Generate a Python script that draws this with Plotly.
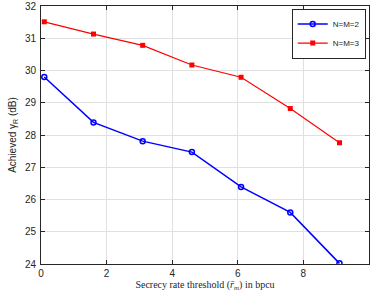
import plotly.graph_objects as go

x_vals = [0.1, 1.6, 3.1, 4.6, 6.1, 7.6, 9.1]
blue_vals = [29.8, 28.39, 27.81, 27.47, 26.39, 25.6, 24.02]
red_vals = [31.51, 31.13, 30.78, 30.17, 29.79, 28.82, 27.76]
names = ["N=M=2", "N=M=3"]

fig = go.Figure()
fig.add_trace(go.Scatter(x=x_vals, y=blue_vals, name=names[0], mode="lines+markers",
                         line=dict(color="#0000ff", width=1.5),
                         marker=dict(symbol="circle-open", size=5, color="#0000ff", line=dict(width=1.5))))
fig.add_trace(go.Scatter(x=x_vals, y=red_vals, name=names[1], mode="lines+markers",
                         line=dict(color="#ff0000", width=1.2),
                         marker=dict(symbol="square", size=5, color="#ff0000")))

axis_common = dict(showline=True, linecolor="#262626", linewidth=1, mirror="ticks",
                   ticks="inside", ticklen=4, tickcolor="#262626",
                   showgrid=True, gridcolor="#e0e0e0", gridwidth=1, zeroline=False,
                   automargin=False,
                   tickfont=dict(family="Liberation Sans, Arial", size=10, color="#262626"))

fig.update_xaxes(range=[0, 10], dtick=2, ticklabelstandoff=0, **axis_common,
                 title=dict(text="Secrecy rate threshold (<i>r̄</i><sub><i>m</i></sub>) in bpcu",
                            font=dict(family="Liberation Serif, Times New Roman", size=10, color="#262626"),
                            standoff=0))
fig.update_yaxes(range=[24, 32], dtick=1, ticklabelstandoff=2, **axis_common,
                 title=dict(text="Achieved γ<sub>R</sub> (dB)",
                            font=dict(family="Liberation Sans, Arial", size=10, color="#262626"),
                            standoff=6))

fig.update_layout(width=374, height=296, margin=dict(l=41, r=5, t=6, b=32),
                  paper_bgcolor="white", plot_bgcolor="white", showlegend=True,
                  legend=dict(x=0.99, y=0.99, xanchor="right", yanchor="top",
                              bgcolor="white", bordercolor="#262626", borderwidth=1,
                              font=dict(family="Liberation Sans, Arial", size=8, color="#262626"),
                              tracegroupgap=0, itemwidth=30))

fig.write_html("out.html", config={"displayModeBar": False},
               post_script="document.body.style.margin='0';document.body.style.padding='0';")
